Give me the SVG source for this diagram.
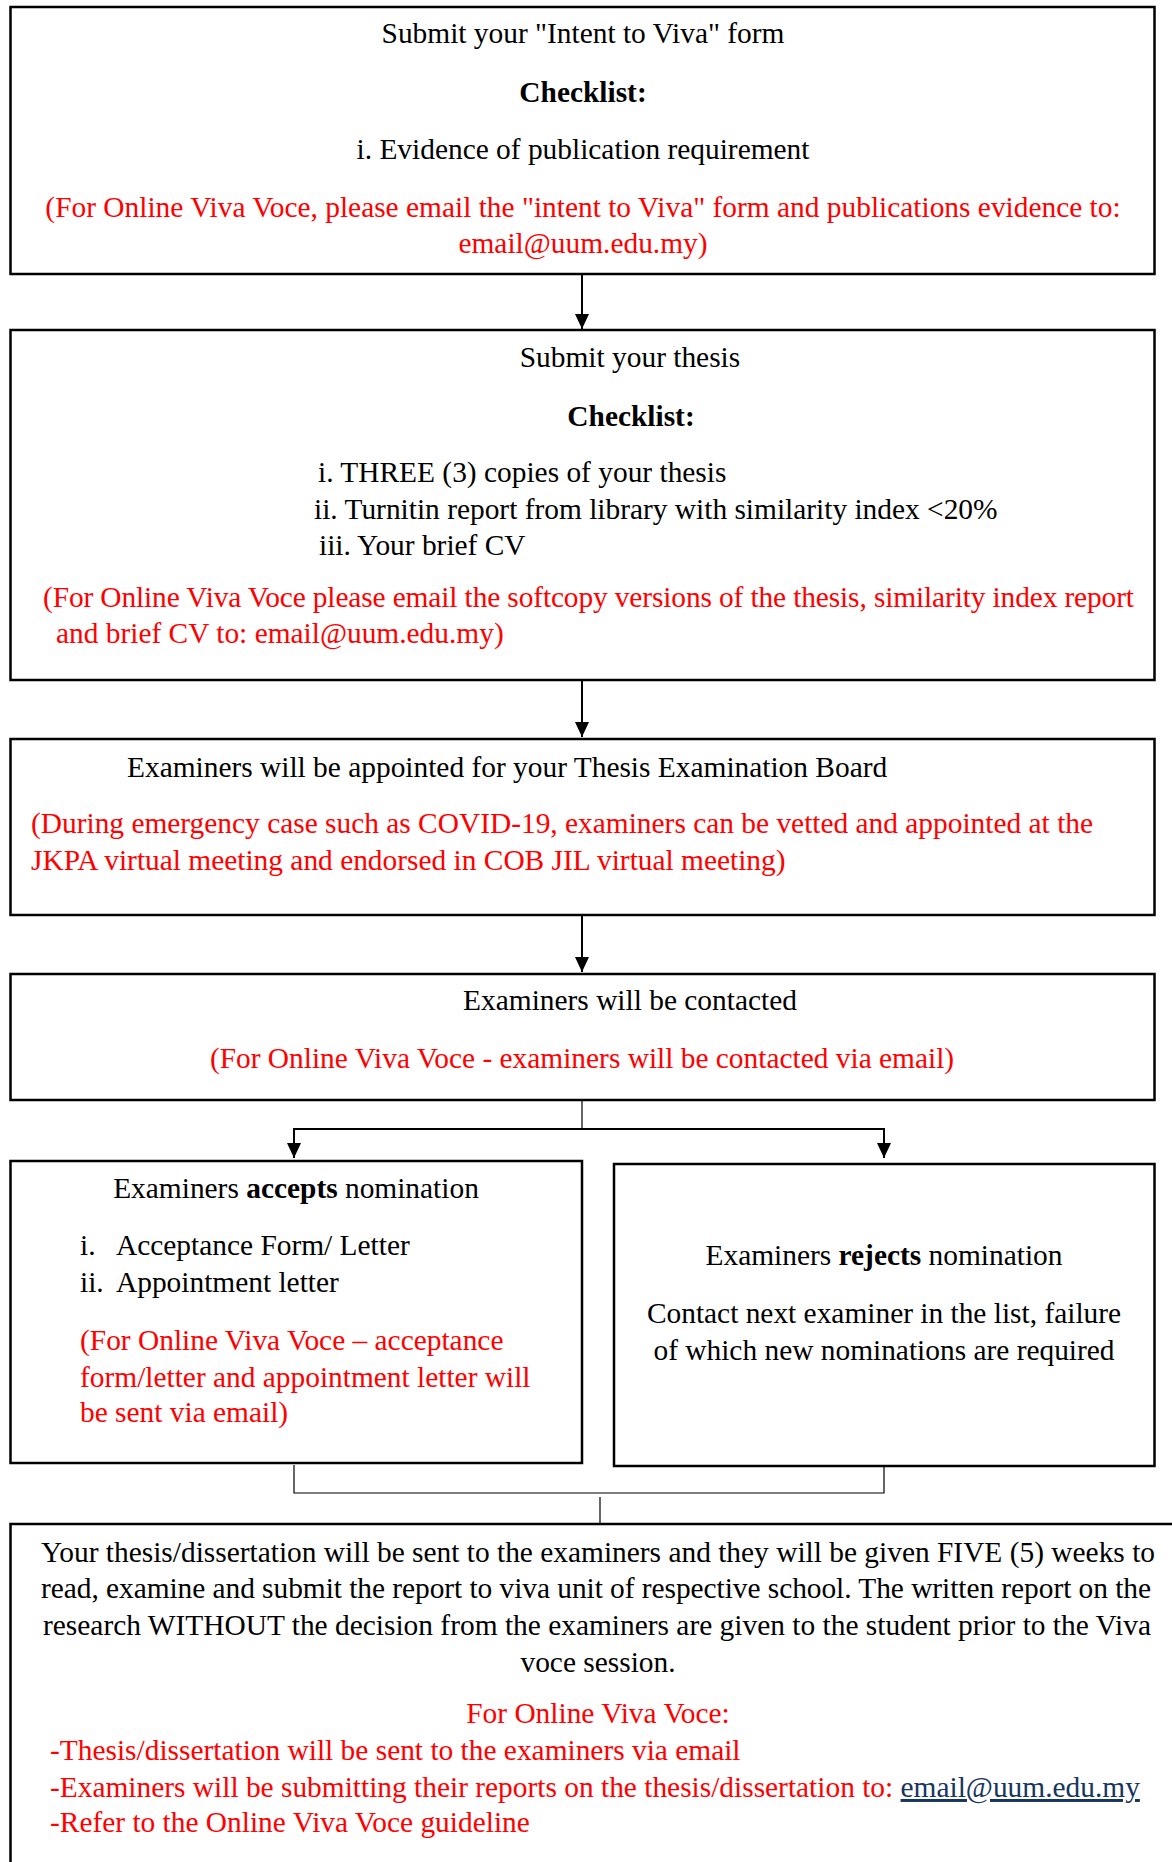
<svg xmlns="http://www.w3.org/2000/svg" width="1172" height="1862" viewBox="0 0 1172 1862">
<style>
text{font-family:"Liberation Serif","Times New Roman",serif;font-size:29.4px;fill:#000}
.r{fill:#ff0000}
.b{font-weight:bold}
.c{text-anchor:middle}
.box{fill:#fff;stroke:#000;stroke-width:2.5}
.ln{fill:none;stroke:#000;stroke-width:2}
.thin{fill:none;stroke:#000;stroke-width:1.2}
.link{fill:#17365d;text-decoration:underline}
</style>
<defs>
<marker id="ad" markerWidth="14" markerHeight="15" refX="7" refY="15" markerUnits="userSpaceOnUse" viewBox="0 0 14 15" orient="0">
<path d="M0,0 L14,0 L7,15 Z" fill="#000"/>
</marker>
</defs>

<g id="connectors">
<line class="ln" x1="582" y1="275" x2="582" y2="329" marker-end="url(#ad)"/>
<line class="ln" x1="582" y1="681" x2="582" y2="737" marker-end="url(#ad)"/>
<line class="ln" x1="582" y1="916" x2="582" y2="972" marker-end="url(#ad)"/>
<line class="thin" x1="582" y1="1101" x2="582" y2="1129"/>
<line class="ln" x1="293" y1="1129" x2="885" y2="1129"/>
<line class="ln" x1="294" y1="1129" x2="294" y2="1158" marker-end="url(#ad)"/>
<line class="ln" x1="884" y1="1129" x2="884" y2="1158" marker-end="url(#ad)"/>
<polyline class="thin" points="294,1465 294,1493 884,1493 884,1467"/>
<line class="thin" x1="600" y1="1497" x2="600" y2="1523"/>
</g>

<g id="node1">
<rect class="box" x="10.5" y="7" width="1144" height="267"/>
<text class="c" x="583" y="43">Submit your "Intent to Viva" form</text>
<text class="c b" x="583" y="102">Checklist:</text>
<text class="c" x="583" y="159">i. Evidence of publication requirement</text>
<text class="c r" x="583" y="217">(For Online Viva Voce, please email the "intent to Viva" form and publications evidence to:</text>
<text class="c r" x="583" y="253">email@uum.edu.my)</text>
</g>

<g id="node2">
<rect class="box" x="10.5" y="330" width="1144" height="350"/>
<text class="c" x="630" y="367">Submit your thesis</text>
<text class="c b" x="631" y="426">Checklist:</text>
<text x="318" y="482">i. THREE (3) copies of your thesis</text>
<text x="314" y="519">ii. Turnitin report from library with similarity index &lt;20%</text>
<text x="319" y="555">iii. Your brief CV</text>
<text class="r" x="43" y="607" textLength="1091" lengthAdjust="spacing">(For Online Viva Voce please email the softcopy versions of the thesis, similarity index report</text>
<text class="r" x="56" y="643">and brief CV to: email@uum.edu.my)</text>
</g>

<g id="node3">
<rect class="box" x="10.5" y="739" width="1144" height="176"/>
<text x="127" y="777">Examiners will be appointed for your Thesis Examination Board</text>
<text class="r" x="31" y="833">(During emergency case such as COVID-19, examiners can be vetted and appointed at the</text>
<text class="r" x="31" y="870">JKPA virtual meeting and endorsed in COB JIL virtual meeting)</text>
</g>

<g id="node4">
<rect class="box" x="10.5" y="974" width="1144" height="126"/>
<text class="c" x="630" y="1010">Examiners will be contacted</text>
<text class="c r" x="582" y="1068">(For Online Viva Voce - examiners will be contacted via email)</text>
</g>

<g id="node5">
<rect class="box" x="10.5" y="1161" width="571.5" height="302"/>
<text class="c" x="296" y="1198">Examiners <tspan class="b">accepts</tspan> nomination</text>
<text x="80" y="1255">i.</text>
<text x="116" y="1255">Acceptance Form/ Letter</text>
<text x="80" y="1292">ii.</text>
<text x="116" y="1292">Appointment letter</text>
<text class="r" x="80" y="1350">(For Online Viva Voce – acceptance</text>
<text class="r" x="80" y="1387">form/letter and appointment letter will</text>
<text class="r" x="80" y="1422">be sent via email)</text>
</g>

<g id="node6">
<rect class="box" x="614" y="1164" width="540.5" height="302"/>
<text class="c" x="884" y="1265">Examiners <tspan class="b">rejects</tspan> nomination</text>
<text class="c" x="884" y="1323">Contact next examiner in the list, failure</text>
<text class="c" x="884" y="1360">of which new nominations are required</text>
</g>

<g id="node7">
<rect class="box" x="10.5" y="1524" width="1180" height="360"/>
<text x="41" y="1562" textLength="1114" lengthAdjust="spacing">Your thesis/dissertation will be sent to the examiners and they will be given FIVE (5) weeks to</text>
<text x="41" y="1598" textLength="1110" lengthAdjust="spacing">read, examine and submit the report to viva unit of respective school. The written report on the</text>
<text x="43" y="1635" textLength="1108" lengthAdjust="spacing">research WITHOUT the decision from the examiners are given to the student prior to the Viva</text>
<text class="c" x="598" y="1672">voce session.</text>
<text class="c r" x="598" y="1723">For Online Viva Voce:</text>
<text class="r" x="50" y="1760">-Thesis/dissertation will be sent to the examiners via email</text>
<text class="r" x="50" y="1797">-Examiners will be submitting their reports on the thesis/dissertation to: <tspan class="link">email@uum.edu.my</tspan></text>
<text class="r" x="50" y="1832">-Refer to the Online Viva Voce guideline</text>
</g>
</svg>
